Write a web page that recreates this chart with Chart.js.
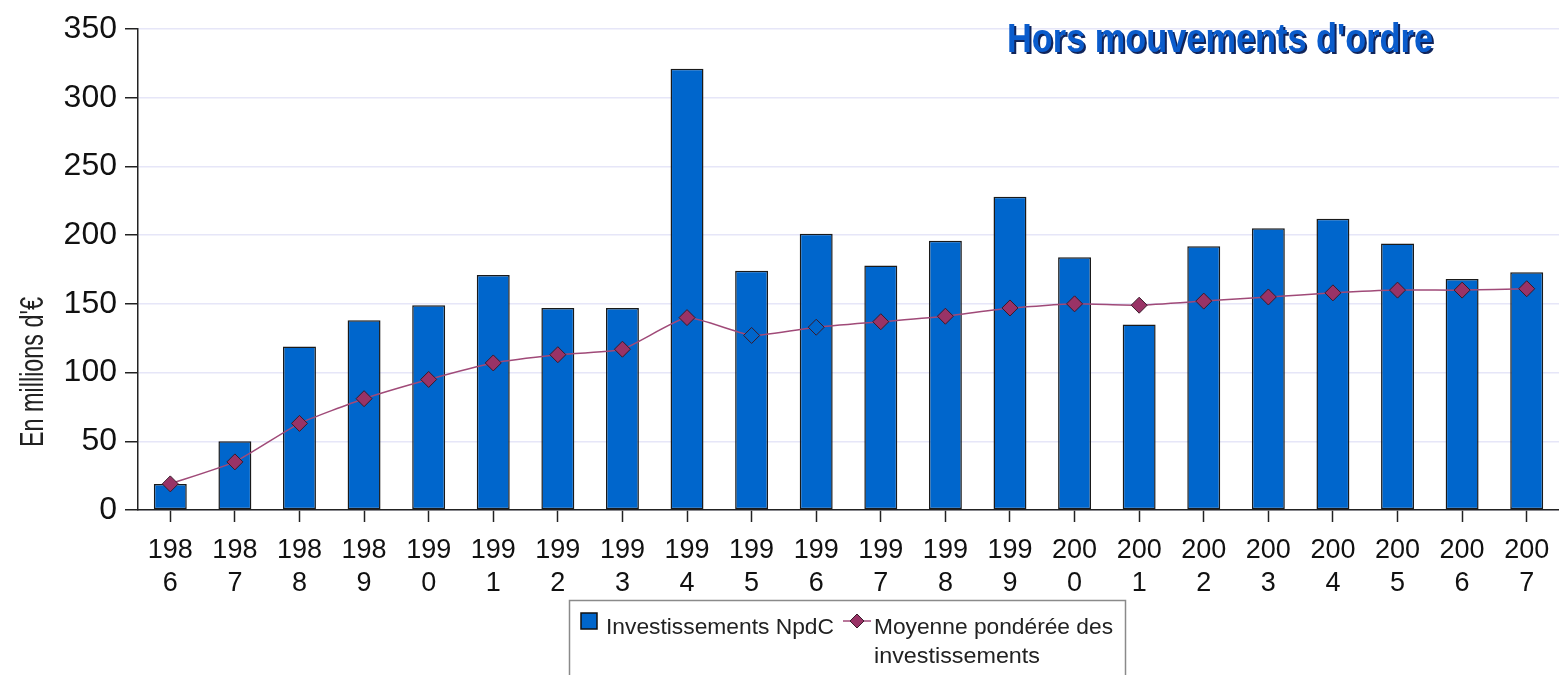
<!DOCTYPE html>
<html>
<head>
<meta charset="utf-8">
<script src="https://cdn.jsdelivr.net/npm/chart.js@4"></script>
<style>
  html, body { margin: 0; padding: 0; background: #fff; overflow: hidden; }
  canvas { display: block; }
</style>
</head>
<body>
<canvas id="chart" width="1559" height="675"></canvas>
<script>
/* Years, split in two lines like the original axis labels */
var years = ['1986', '1987', '1988', '1989', '1990', '1991', '1992', '1993', '1994', '1995', '1996',
  '1997', '1998', '1999', '2000', '2001', '2002', '2003', '2004', '2005', '2006', '2007'];

/* Investissements NpdC, in millions d'euros */
var investments = [19, 50, 119, 138, 149, 171, 147, 147, 321, 174, 201,
  178, 196, 228, 184, 135, 192, 205, 212, 194, 168, 173];

/* Moyenne pondérée des investissements */
var weightedAverage = [19, 35, 63, 81, 95, 107, 113, 117, 140, 127, 133,
  137, 141, 147, 150, 149, 152, 155, 158, 160, 160, 161];

var yTicks = [0, 50, 100, 150, 200, 250, 300, 350];

var BAR_BLUE = '#0066cc';
var LINE_COLOR = '#a04a78';
var MARKER_COLOR = '#993366';

/* Two markers are drawn hollow (blue) in the original */
var markerFill = weightedAverage.map(function (v, i) {
  return (years[i] === '1995' || years[i] === '1996') ? BAR_BLUE : MARKER_COLOR;
});

/* Draw text squeezed to a given width */
function fitText(ctx, text, x, y, width) {
  var natural = ctx.measureText(text).width;
  ctx.save();
  ctx.translate(x, y);
  ctx.scale(width / natural, 1);
  ctx.fillText(text, 0, 0);
  ctx.restore();
}

/* Title, y axis title and legend box */
var decorations = {
  id: 'decorations',
  afterDraw: function (chart) {
    var ctx = chart.ctx;
    ctx.save();

    /* Title with its dark shadow */
    ctx.font = 'bold 41px "Liberation Sans", Arial, sans-serif';
    ctx.textBaseline = 'alphabetic';
    ctx.textAlign = 'left';
    ctx.fillStyle = '#10245a';
    fitText(ctx, "Hors mouvements d'ordre", 1009, 54, 426);
    ctx.fillStyle = '#0a5ccc';
    fitText(ctx, "Hors mouvements d'ordre", 1007, 52, 426);

    /* Y axis title */
    ctx.save();
    ctx.translate(43, 447);
    ctx.rotate(-Math.PI / 2);
    ctx.font = '33px "Liberation Sans", Arial, sans-serif';
    ctx.fillStyle = '#222';
    fitText(ctx, "En millions d'€", 0, 0, 150);
    ctx.restore();

    /* Legend box */
    ctx.strokeStyle = '#8a8a8a';
    ctx.lineWidth = 1.5;
    ctx.beginPath();
    ctx.moveTo(569.5, 680);
    ctx.lineTo(569.5, 600.5);
    ctx.lineTo(1125.5, 600.5);
    ctx.lineTo(1125.5, 680);
    ctx.stroke();

    var bars = chart.data.datasets[0];
    var line = chart.data.datasets[1];

    ctx.fillStyle = bars.backgroundColor;
    ctx.fillRect(581, 613, 16, 16);
    ctx.strokeStyle = '#111';
    ctx.lineWidth = 1.5;
    ctx.strokeRect(581, 613, 16, 16);

    ctx.font = '22px "Liberation Sans", Arial, sans-serif';
    ctx.fillStyle = '#222';
    fitText(ctx, bars.label, 606, 634, 228);

    ctx.strokeStyle = line.borderColor;
    ctx.lineWidth = 1.5;
    ctx.beginPath();
    ctx.moveTo(843, 621);
    ctx.lineTo(871, 621);
    ctx.stroke();
    ctx.beginPath();
    ctx.moveTo(857, 614);
    ctx.lineTo(864, 621);
    ctx.lineTo(857, 628);
    ctx.lineTo(850, 621);
    ctx.closePath();
    ctx.fillStyle = MARKER_COLOR;
    ctx.fill();
    ctx.strokeStyle = '#3a1a2a';
    ctx.lineWidth = 1;
    ctx.stroke();

    ctx.fillStyle = '#222';
    fitText(ctx, 'Moyenne pondérée des', 874, 634, 239);
    fitText(ctx, 'investissements', 874, 663, 166);

    ctx.restore();
  }
};

var chart = new Chart(document.getElementById('chart'), {
  data: {
    labels: years.map(function (y) { return [y.slice(0, 3), y.slice(3)]; }),
    datasets: [
      {
        type: 'bar',
        label: 'Investissements NpdC',
        data: investments,
        backgroundColor: BAR_BLUE,
        borderColor: '#1a1a1a',
        borderWidth: 1.5,
        borderSkipped: false,
        barPercentage: 0.51,
        categoryPercentage: 1,
        order: 1
      },
      {
        type: 'line',
        label: 'Moyenne pondérée des investissements',
        data: weightedAverage,
        borderColor: LINE_COLOR,
        borderWidth: 1.5,
        tension: 0.15,
        pointStyle: 'rectRot',
        pointRadius: 8,
        pointBackgroundColor: markerFill,
        pointBorderColor: '#3a1a2a',
        pointBorderWidth: 1,
        order: 0
      }
    ]
  },
  options: {
    responsive: false,
    animation: false,
    layout: { autoPadding: false, padding: { top: 29, right: 0, left: 0, bottom: 0 } },
    plugins: {
      legend: { display: false },
      tooltip: { enabled: false }
    },
    scales: {
      x: {
        offset: true,
        grid: { offset: false, drawOnChartArea: false, tickLength: 12, tickColor: '#222', tickWidth: 1.5 },
        border: { color: '#222', width: 1.5 },
        ticks: {
          maxRotation: 0,
          autoSkip: false,
          padding: 12,
          color: '#111',
          font: { family: '"Liberation Sans", Arial, sans-serif', size: 27, lineHeight: 1.22 }
        },
        afterFit: function (scale) {
          scale.height = 165;
          scale.paddingLeft = 0;
          scale.paddingRight = 0;
        }
      },
      y: {
        min: 0,
        max: 350,
        afterBuildTicks: function (scale) {
          scale.ticks = yTicks.map(function (v) { return { value: v }; });
        },
        grid: { color: '#e6e6f8', lineWidth: 1.5, tickLength: 13, tickColor: '#222', tickWidth: 1.5 },
        border: { color: '#222', width: 1.5 },
        ticks: {
          padding: 8,
          color: '#111',
          font: { family: '"Liberation Sans", Arial, sans-serif', size: 32 }
        },
        afterFit: function (scale) { scale.width = 138; }
      }
    }
  },
  plugins: [decorations]
});
</script>
</body>
</html>
